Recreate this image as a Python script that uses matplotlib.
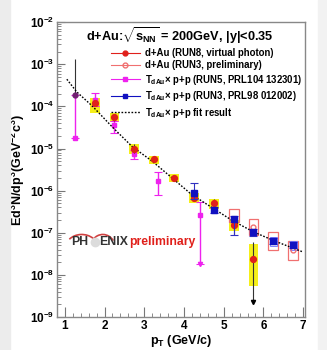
import numpy as np
import matplotlib
matplotlib.use('Agg')
import matplotlib.pyplot as plt
from matplotlib.patches import Rectangle, Arc
from matplotlib.lines import Line2D

plt.rcParams['font.family'] = ['Liberation Sans', 'DejaVu Sans']
plt.rcParams['mathtext.fontset'] = 'custom'
plt.rcParams['mathtext.rm'] = 'Liberation Sans:bold'
plt.rcParams['mathtext.bf'] = 'Liberation Sans:bold'
plt.rcParams['mathtext.it'] = 'Liberation Sans:bold'

# ---- dados ----
# d+Au RUN8 (virtual photon)
pt8 = [1.25, 1.75, 2.25, 2.75, 3.25, 3.75, 4.25, 4.75, 5.25, 5.75]
val8 = [1.9e-4, 1.2e-4, 5.5e-5, 1.0e-5, 5.5e-6, 2.0e-6, 6.8e-7, 5.0e-7, 1.5e-7, 2.4e-8]
err8_lo = [1.9e-4, 1.0e-4, 4.6e-5, 7.8e-6, 5.0e-6, 1.8e-6, 5.6e-7, 4.2e-7, 9.0e-8, 2.3e-9]
err8_hi = [1.3e-3, 1.45e-4, 6.2e-5, 1.25e-5, 6.1e-6, 2.3e-6, 8.5e-7, 6.5e-7, 2.0e-7, 6.0e-8]
sys8_lo = [None, 7.0e-5, 4.2e-5, 7.5e-6, 4.3e-6, 1.6e-6, 5.0e-7, 3.6e-7, 1.1e-7, 5.5e-9]
sys8_hi = [None, 1.6e-4, 7.0e-5, 1.3e-5, 6.8e-6, 2.5e-6, 9.0e-7, 6.5e-7, 2.0e-7, 5.5e-8]

# d+Au RUN3 (preliminary)
pt3p = [5.25, 5.75, 6.25, 6.75]
val3p = [2.6e-7, 1.35e-7, 6.5e-8, 4.0e-8]
sys3p_lo = [1.8e-7, 8.9e-8, 4.0e-8, 2.3e-8]
sys3p_hi = [3.7e-7, 2.1e-7, 1.05e-7, 6.5e-8]

# TdAu x p+p (RUN5, PRL104 132301)
ptm = [1.25, 1.75, 2.25, 2.75, 3.35, 4.4]
valm = [1.8e-5, 1.4e-4, 3.7e-5, 7.6e-6, 1.7e-6, 2.7e-7]
errm_lo = [1.8e-5, 1.0e-4, 2.3e-5, 5.5e-6, 8.0e-7, 1.8e-8]
errm_hi = [1.9e-4, 2.1e-4, 4.5e-5, 9.0e-6, 2.8e-6, 5.5e-7]

# TdAu x p+p (RUN3, PRL98 012002)
ptb = [4.25, 4.75, 5.25, 5.75, 6.25, 6.75]
valb = [9.0e-7, 3.5e-7, 2.1e-7, 1.05e-7, 6.5e-8, 5.1e-8]
errb_lo = [6.5e-7, 2.9e-7, 9.0e-8, 8.5e-8, 5.5e-8, 4.3e-8]
errb_hi = [1.5e-6, 4.2e-7, 2.5e-7, 1.25e-7, 7.5e-8, 6.0e-8]

# fit result (curva tracejada)
ptfit = [1.05, 1.3, 1.7, 2.2, 2.7, 3.2, 3.7, 4.2, 4.7, 5.2, 5.75, 6.3, 7.0]
valfit = [4.4e-4, 2.2e-4, 1.0e-4, 3.2e-5, 1.1e-5, 5.0e-6, 2.0e-6, 8.0e-7,
          4.0e-7, 2.0e-7, 1.05e-7, 6.3e-8, 3.5e-8]

xticks = [1, 2, 3, 4, 5, 6, 7]
yticks = [1e-9, 1e-8, 1e-7, 1e-6, 1e-5, 1e-4, 1e-3, 1e-2]
ylabels = [r'$\mathbf{10^{%d}}$' % e for e in range(-9, -1)]

RED = '#e0201b'
PINK = '#f07070'
MAG = '#ee22ee'
BLUE = '#1010c0'
YEL = '#f4ee00'

fig = plt.figure(figsize=(3.27, 3.5), dpi=100)
fig.patches.append(Rectangle((0, 0), 10/327, 1, transform=fig.transFigure,
                             color='#ececec', zorder=0))
fig.patches.append(Rectangle((318/327, 0), 9/327, 1, transform=fig.transFigure,
                             color='#f2f2f2', zorder=0))
ax = fig.add_axes([0.174, 0.094, 0.759, 0.843])
ax.set_yscale('log')
ax.set_xlim(0.8, 7.05)
ax.set_ylim(1e-9, 1e-2)

hw = 0.125
# caixas de sistemático (amarelo) RUN8
for x, lo, hi in zip(pt8, sys8_lo, sys8_hi):
    if lo is None:
        continue
    ax.add_patch(Rectangle((x - hw, lo), 2*hw, hi - lo, facecolor=YEL,
                           edgecolor='none', alpha=0.9, zorder=1))
# caixas abertas RUN3 preliminar
for x, lo, hi in zip(pt3p, sys3p_lo, sys3p_hi):
    ax.add_patch(Rectangle((x - hw, lo), 2*hw, hi - lo, facecolor='none',
                           edgecolor=PINK, lw=0.9, zorder=2))
for x, v in zip(ptb[4:], valb[4:]):
    ax.add_patch(Rectangle((x - 0.09, v*0.75), 0.18, v*0.5, facecolor='none',
                           edgecolor='#8080ff', lw=0.7, zorder=2))

# curva do fit
ax.plot(ptfit, valfit, color='black', ls=(0, (1.2, 1.2)), lw=1.0, zorder=5)

ax.errorbar(ptm, valm, yerr=[np.array(valm) - np.array(errm_lo),
                             np.array(errm_hi) - np.array(valm)],
            fmt='s', ms=3.5, color=MAG, ecolor=MAG, elinewidth=1.0,
            capsize=3, capthick=0.8, zorder=3)
ax.errorbar(pt8, val8, yerr=[np.array(val8) - np.array(err8_lo),
                             np.array(err8_hi) - np.array(val8)],
            fmt='none', ecolor='#333333', elinewidth=0.8, zorder=4)
ax.plot(pt8[1:], val8[1:], 'o', ms=4.2, color=RED, mec=RED, zorder=6)
ax.plot(pt8[:1], val8[:1], 'o', ms=3.5, color='#702070', zorder=6)
ax.plot(pt3p[1:], val3p[1:], 'o', ms=3.5, mfc='none', mec=PINK, zorder=6)
ax.errorbar(ptb, valb, yerr=[np.array(valb) - np.array(errb_lo),
                             np.array(errb_hi) - np.array(valb)],
            fmt='s', ms=4, color=BLUE, ecolor='#3030c0', elinewidth=0.8,
            capsize=3, capthick=0.8, zorder=7)
ax.plot(pt8[-1:], [err8_lo[-1]], marker='v', ms=3, color='black', zorder=7)
ax.plot(ptm[-1:], [errm_lo[-1]], marker='v', ms=3, color=MAG, zorder=7)

# eixos
for s in ax.spines.values():
    s.set_color('#888888')
    s.set_linewidth(1.0)
ax.set_xticks(xticks)
ax.set_xticklabels([str(t) for t in xticks], fontsize=8.5, fontweight='bold')
ax.set_xticks(np.arange(0.8, 7.05, 0.2), minor=True)
ax.set_yticks(yticks)
ax.set_yticklabels(ylabels, fontsize=8.5)
ax.tick_params(which='major', direction='in', length=6, color='#777777', pad=2)
ax.tick_params(which='minor', direction='in', length=3, color='#777777')
ax.tick_params(axis='x', which='major', length=7)

ax.set_xlabel(r'$\mathbf{p_T}$ (GeV/c)', fontsize=9, fontweight='bold', labelpad=1)
ax.set_ylabel(r'Ed$^{3}$N/dp$^{3}$(GeV$^{-2}$c$^{3}$)', fontsize=9,
              fontweight='bold', labelpad=2)

ax.text(0.495, 0.955, r'd+Au:$\sqrt{s_{NN}}$ = 200GeV, |y|<0.35',
        transform=ax.transAxes, ha='center', va='center', fontsize=9.2,
        fontweight='bold')

handles = [
    Line2D([], [], color=RED, marker='o', ms=3.5, lw=0.8),
    Line2D([], [], color=PINK, marker='o', ms=3.5, mfc='none', lw=0.8),
    Line2D([], [], color=MAG, marker='s', ms=3.5, lw=0.8),
    Line2D([], [], color=BLUE, marker='s', ms=3.5, lw=0.8),
    Line2D([], [], color='black', ls=(0, (1.2, 1.2)), lw=1.0),
]
labels = [
    'd+Au (RUN8, virtual photon)',
    'd+Au (RUN3, preliminary)',
    r'T$_{dAu}$$\times$ p+p (RUN5, PRL104 132301)',
    r'T$_{dAu}$$\times$ p+p (RUN3, PRL98 012002)',
    r'T$_{dAu}$$\times$ p+p fit result',
]
leg = ax.legend(handles, labels, loc='upper left', bbox_to_anchor=(0.19, 0.935),
                frameon=False, fontsize=6.9, handlelength=3.0, handletextpad=0.6,
                labelspacing=0.25, borderpad=0.2)
for t in leg.get_texts():
    t.set_fontweight('bold')

# logo PHENIX preliminary
ly = 0.254
ax.text(0.058, ly, 'PH', transform=ax.transAxes, fontsize=8.8,
        fontweight='bold', color='#333333', va='center')
ax.plot([0.152], [ly], 'o', ms=6, color='#dcdcdc', transform=ax.transAxes)
ax.text(0.172, ly, 'ENIX', transform=ax.transAxes, fontsize=8.8,
        fontweight='bold', color='#333333', va='center')
ax.text(0.29, ly, 'preliminary', transform=ax.transAxes, fontsize=8.8,
        fontweight='bold', color=RED, va='center')
ax.add_patch(Arc((0.10, 0.235), 0.13, 0.09, theta1=35, theta2=150,
                 transform=ax.transAxes, color='#d04040', lw=1.2))
ax.add_patch(Arc((0.185, 0.235), 0.1, 0.09, theta1=30, theta2=145,
                 transform=ax.transAxes, color='#d04040', lw=1.2))

plt.savefig('out.png', dpi=100)
plt.close()
